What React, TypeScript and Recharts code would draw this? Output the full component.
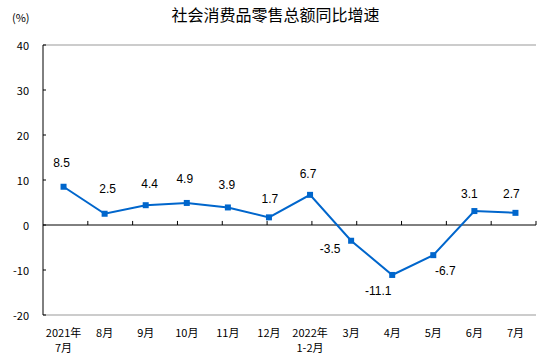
import { LineChart, Line, XAxis, YAxis, ReferenceLine, LabelList } from 'recharts';

const months = [
  '2021年\n7月', '8月', '9月', '10月', '11月', '12月',
  '2022年\n1-2月', '3月', '4月', '5月', '6月', '7月',
];
const growth = [8.5, 2.5, 4.4, 4.9, 3.9, 1.7, 6.7, -3.5, -11.1, -6.7, 3.1, 2.7];
const yTicks = [-20, -10, 0, 10, 20, 30, 40];
const boundaries = [1, 2, 3, 4, 5, 6, 7, 8, 9, 10, 11, 12];

// value labels are hand placed in the original, offsets in px from the point
const labelDx = [-2, 3, 4, -2, -1, 1, -2, -21, -14, 12, -5, -4];
const labelDy = [-24, -25, -21, -24, -22, -18, -21, 8, 16, 16, -17, -19];

const data = months.map((m, i) => ({ month: m, value: growth[i] }));

const BLUE = '#0066cc';
const AXIS_FONT = '"Noto Sans CJK SC", sans-serif';

function YTick({ x, y, payload }: any) {
  return (
    <g>
      <line x1={x + 14} x2={x + 17} y1={y} y2={y} stroke="#000" />
      <text
        x={x}
        y={y}
        textAnchor="end"
        dominantBaseline="central"
        fontSize={11}
        fontFamily={AXIS_FONT}
        fill="#000"
      >
        {payload.value}
      </text>
    </g>
  );
}

function XTick({ x, y, payload }: any) {
  const lines = String(payload.value).split('\n');
  return (
    <g>
      {lines.map((l, i) => (
        <text
          key={i}
          x={x}
          y={y + 17 + i * 15}
          textAnchor="middle"
          dominantBaseline="central"
          fontSize={11}
          fontFamily={AXIS_FONT}
          fill="#000"
        >
          {l}
        </text>
      ))}
    </g>
  );
}

function ValueLabel({ x, y, value, index }: any) {
  return (
    <text
      x={x + labelDx[index]}
      y={y + labelDy[index]}
      textAnchor="middle"
      dominantBaseline="central"
      fontSize={12}
      fontFamily='"Liberation Sans", Arial, sans-serif'
      fill="#000"
    >
      {value}
    </text>
  );
}

function SquareDot({ cx, cy, index }: any) {
  return <rect key={index} x={cx - 3} y={cy - 3} width={6} height={6} fill={BLUE} />;
}

export default function App() {
  return (
    <div style={{ position: 'absolute', left: 0, top: 0, width: 559, height: 355, background: '#fff' }}>
      <div
        style={{
          position: 'absolute',
          left: 0,
          top: 6,
          width: 551,
          textAlign: 'center',
          fontSize: 16,
          lineHeight: '16px',
          fontFamily: AXIS_FONT,
          color: '#000',
        }}
      >
        社会消费品零售总额同比增速
      </div>
      <div
        style={{
          position: 'absolute',
          left: 12,
          top: 12,
          fontSize: 11,
          lineHeight: '11px',
          fontFamily: AXIS_FONT,
          color: '#000',
        }}
      >
        (%)
      </div>
      <LineChart width={559} height={355} data={data} margin={{ top: 45, right: 23, bottom: 0, left: 0 }}>
        <XAxis
          dataKey="month"
          scale="band"
          interval={0}
          height={40}
          tickSize={0}
          tickMargin={0}
          tickLine={false}
          axisLine={{ stroke: '#999' }}
          tick={<XTick />}
        />
        <XAxis xAxisId="grid" type="number" domain={[0, 12]} allowDataOverflow hide />
        <YAxis
          domain={[-20, 40]}
          ticks={yTicks}
          interval={0}
          width={43}
          tickSize={0}
          tickMargin={14}
          tickLine={false}
          axisLine={{ stroke: '#000' }}
          tick={<YTick />}
        />
        <ReferenceLine y={40} stroke="#999" />
        <ReferenceLine xAxisId="grid" x={12} stroke="#999" />
        <ReferenceLine y={0} stroke="#000" />
        {boundaries.map((b) => (
          <ReferenceLine
            key={b}
            xAxisId="grid"
            segment={[{ x: b, y: 0 }, { x: b, y: 0.9 }]}
            stroke="#000"
          />
        ))}
        <Line
          type="linear"
          dataKey="value"
          stroke={BLUE}
          strokeWidth={2}
          dot={<SquareDot />}
          activeDot={false}
          isAnimationActive={false}
        >
          <LabelList dataKey="value" content={<ValueLabel />} />
        </Line>
      </LineChart>
    </div>
  );
}
